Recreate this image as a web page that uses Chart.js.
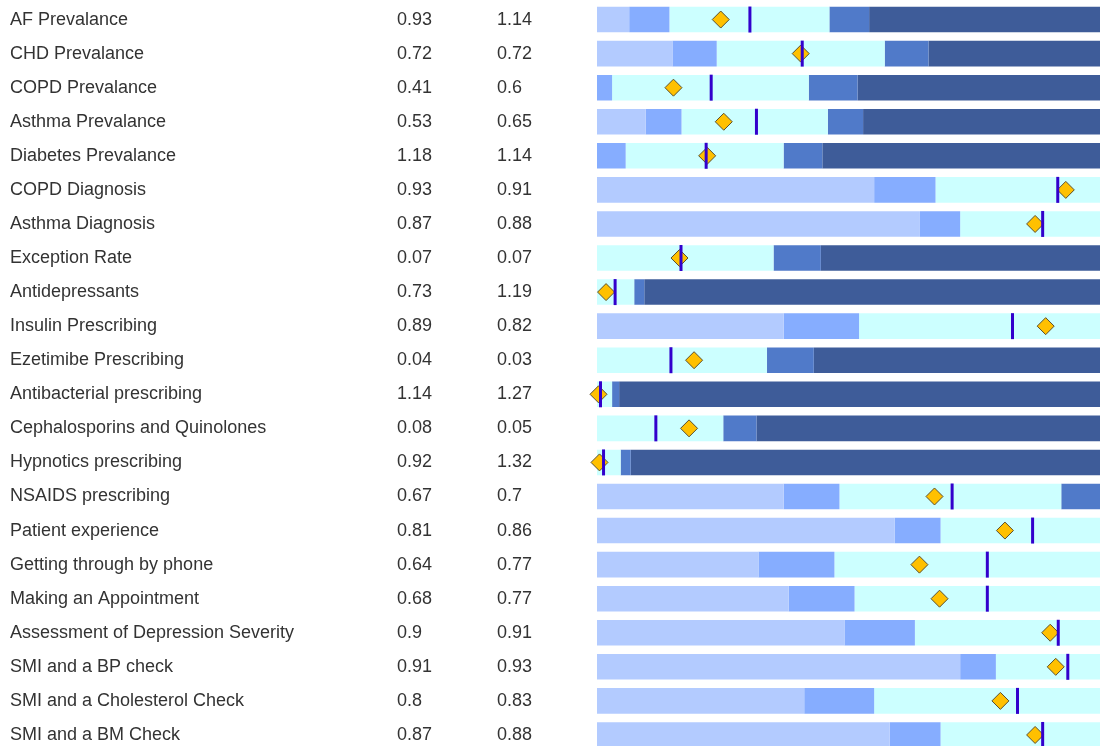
<!DOCTYPE html>
<html>
<head>
<meta charset="utf-8">
<script src="https://cdn.jsdelivr.net/npm/chart.js@4.4.1/dist/chart.umd.min.js"></script>
<style>
html, body { margin: 0; padding: 0; background: #fff; overflow: hidden; }
</style>
</head>
<body>
<canvas id="chart" width="1100" height="752"></canvas>
<script>
// Indicator names and the two value columns
const indicators = [
    "AF Prevalance", "CHD Prevalance", "COPD Prevalance", "Asthma Prevalance",
    "Diabetes Prevalance", "COPD Diagnosis", "Asthma Diagnosis", "Exception Rate",
    "Antidepressants", "Insulin Prescribing", "Ezetimibe Prescribing",
    "Antibacterial prescribing", "Cephalosporins and Quinolones", "Hypnotics prescribing",
    "NSAIDS prescribing", "Patient experience", "Getting through by phone",
    "Making an Appointment", "Assessment of Depression Severity", "SMI and a BP check",
    "SMI and a Cholesterol Check", "SMI and a BM Check"
];
const practiceValues = [0.93, 0.72, 0.41, 0.53, 1.18, 0.93, 0.87, 0.07, 0.73, 0.89, 0.04,
    1.14, 0.08, 0.92, 0.67, 0.81, 0.64, 0.68, 0.9, 0.91, 0.8, 0.87];
const comparatorValues = [1.14, 0.72, 0.6, 0.65, 1.14, 0.91, 0.88, 0.07, 1.19, 0.82, 0.03,
    1.27, 0.05, 1.32, 0.7, 0.86, 0.77, 0.77, 0.91, 0.93, 0.83, 0.88];

// Band ends, in % of the bar range; band 5 runs to 100
const band1End = [6.4, 15.0, 0, 9.7, 0, 55.1, 64.2, 0, 0, 37.1, 0, 0, 0, 0, 37.1, 59.2, 32.1, 38.1, 49.2, 72.2, 41.2, 58.2];
const band2End = [14.4, 23.8, 3.0, 16.8, 5.7, 67.3, 72.2, 0, 0, 52.1, 0, 0, 0, 0, 48.2, 68.3, 47.2, 51.2, 63.2, 79.3, 55.1, 68.3];
const band3End = [46.2, 57.2, 42.1, 45.9, 37.1, 100, 100, 35.1, 7.4, 100, 33.8, 3.0, 25.1, 4.7, 92.3, 100, 100, 100, 100, 100, 100, 100];
const band4End = [54.1, 65.9, 51.8, 52.9, 44.8, 100, 100, 44.5, 9.4, 100, 43.1, 4.4, 31.7, 6.7, 100, 100, 100, 100, 100, 100, 100, 100];

// Marker positions, same % scale
const diamondPos = [24.6, 40.5, 15.2, 25.2, 21.9, 93.2, 87.1, 16.4, 1.8, 89.2, 19.3, 0.3, 18.3, 0.5, 67.1, 81.1, 64.1, 68.1, 90.1, 91.2, 80.2, 87.1];
const linePos = [30.4, 40.8, 22.7, 31.7, 21.7, 91.6, 88.6, 16.7, 3.6, 82.6, 14.7, 0.7, 11.7, 1.3, 70.6, 86.6, 77.6, 77.6, 91.7, 93.6, 83.6, 88.6];

const bandColors = ["#b3cbff", "#86adff", "#ccffff", "#507ac9", "#3e5c99"];

function band(starts, ends) {
    return starts.map((s, i) => [s, ends[i]]);
}
const zeros = indicators.map(() => 0);
const hundreds = indicators.map(() => 100);
const bands = [
    band(zeros, band1End),
    band(band1End, band2End),
    band(band2End, band3End),
    band(band3End, band4End),
    band(band4End, hundreds)
];

const textColumns = {
    id: 'textColumns',
    afterDraw(chart) {
        const ctx = chart.ctx;
        const y = chart.scales.y;
        ctx.save();
        ctx.font = '18px "Liberation Sans", Arial, sans-serif';
        ctx.fillStyle = '#333';
        ctx.textBaseline = 'middle';
        indicators.forEach((name, i) => {
            const py = y.getPixelForValue(i);
            ctx.fillText(name, 10, py);
            ctx.fillText(String(practiceValues[i]), 397, py);
            ctx.fillText(String(comparatorValues[i]), 497, py);
        });
        ctx.restore();
    }
};

const datasets = [
    {
        type: 'line',
        indexAxis: 'y',
        data: linePos,
        showLine: false,
        pointStyle: 'line',
        rotation: 90,
        pointRadius: 13,
        pointBorderWidth: 3,
        pointBorderColor: '#3300cc',
        clip: false,
        order: 0
    },
    {
        type: 'line',
        indexAxis: 'y',
        data: diamondPos,
        showLine: false,
        pointStyle: 'rectRot',
        pointRadius: 8.5,
        pointBorderWidth: 1,
        pointBackgroundColor: '#ffc000',
        pointBorderColor: '#5a5030',
        clip: false,
        order: 1
    }
];
bands.forEach((b, k) => {
    datasets.push({
        data: b,
        backgroundColor: bandColors[k],
        borderWidth: 0,
        grouped: false,
        barPercentage: 0.75,
        categoryPercentage: 1,
        order: 2
    });
});

new Chart(document.getElementById('chart'), {
    type: 'bar',
    data: { labels: indicators, datasets: datasets },
    options: {
        indexAxis: 'y',
        responsive: false,
        animation: false,
        layout: { autoPadding: false, padding: { left: 597, top: 2.5, right: 0, bottom: 0 } },
        plugins: { legend: { display: false }, tooltip: { enabled: false } },
        scales: {
            x: { display: false, min: 0, max: 100 },
            y: { display: false }
        }
    },
    plugins: [textColumns]
});
</script>
</body>
</html>
